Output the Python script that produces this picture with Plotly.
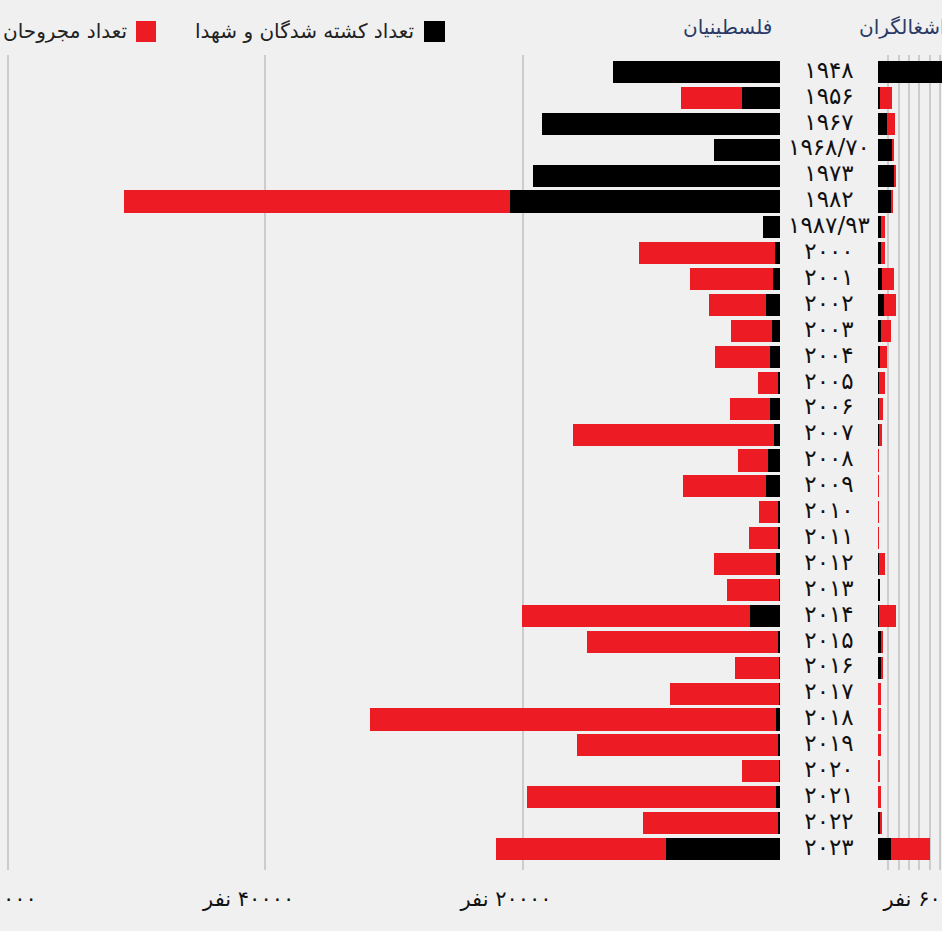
import plotly.graph_objects as go

# ---------------- data ----------------
years = ["۱۹۴۸", "۱۹۵۶", "۱۹۶۷", "۱۹۶۸/۷۰", "۱۹۷۳", "۱۹۸۲", "۱۹۸۷/۹۳",
         "۲۰۰۰", "۲۰۰۱", "۲۰۰۲", "۲۰۰۳", "۲۰۰۴", "۲۰۰۵", "۲۰۰۶", "۲۰۰۷",
         "۲۰۰۸", "۲۰۰۹", "۲۰۱۰", "۲۰۱۱", "۲۰۱۲", "۲۰۱۳", "۲۰۱۴", "۲۰۱۵",
         "۲۰۱۶", "۲۰۱۷", "۲۰۱۸", "۲۰۱۹", "۲۰۲۰", "۲۰۲۱", "۲۰۲۲", "۲۰۲۳"]

pal_killed = [13000, 2950, 18500, 5130, 19200, 20980, 1320,
              390, 540, 1090, 620, 780, 190, 780, 470,
              930, 1090, 150, 150, 310, 80, 2330, 170,
              110, 100, 310, 140, 60, 340, 190, 8860]
pal_wounded = [0, 4740, 0, 0, 0, 30000, 0,
               10570, 6450, 4430, 3190, 4270, 1550, 3110, 15620,
               2330, 6450, 1480, 2250, 4820, 4040, 17720, 14840,
               3420, 8470, 31550, 15620, 2870, 19350, 10490, 13210]

isr_killed = [6373, 170, 880, 1360, 1600, 1250, 300,
              300, 360, 580, 260, 160, 100, 100, 50,
              50, 30, 20, 20, 60, 150, 100, 250,
              350, 20, 15, 10, 5, 15, 160, 1250]
isr_wounded = [0, 1160, 810, 200, 100, 200, 400,
               400, 1170, 1130, 970, 680, 550, 350, 350,
               30, 50, 30, 30, 600, 0, 1600, 200,
               100, 250, 250, 250, 200, 250, 200, 3790]

legend_killed = "تعداد کشته شدگان و شهدا"
legend_wounded = "تعداد مجروحان"
title_pal = "فلسطینیان"
title_isr = "اشغالگران"

unit = "نفر"
pal_ticks = [0, 20000, 40000, 60000]
pal_tick_numbers = ["", "۲۰۰۰۰", "۴۰۰۰۰", "۶۰۰۰۰"]
isr_ticks = [0, 1000, 2000, 3000, 4000, 5000, 6000]
isr_tick_numbers = ["", "", "", "", "", "", "۶۰۰۰"]

# ---------------- style ----------------
W, H = 942, 931
BG = "#f0f0f0"
RED = "#ed1c24"
BLACK = "#000000"
GRID = "#cccccc"
NAVY = "#2b3a67"
FONT = "DejaVu Sans"
PAD = "\u00a0" * 5
LRM = "\u200e"

BAR_W = 0.85


def tick_label(num):
    # visual order: unit on the left, number on the right, number centred on the tick
    if not num:
        return ""
    return unit + " " + LRM + num + PAD


fig = go.Figure()

fig.add_trace(go.Bar(y=years, x=pal_killed, orientation="h", marker_color=BLACK,
                     marker_line_width=0, width=BAR_W, xaxis="x", yaxis="y",
                     name=legend_killed, showlegend=False))
fig.add_trace(go.Bar(y=years, x=pal_wounded, orientation="h", marker_color=RED,
                     marker_line_width=0, width=BAR_W, xaxis="x", yaxis="y",
                     name=legend_wounded, showlegend=False))
fig.add_trace(go.Bar(y=years, x=isr_killed, orientation="h", marker_color=BLACK,
                     marker_line_width=0, width=BAR_W, xaxis="x2", yaxis="y",
                     name=legend_killed, showlegend=False))
fig.add_trace(go.Bar(y=years, x=isr_wounded, orientation="h", marker_color=RED,
                     marker_line_width=0, width=BAR_W, xaxis="x2", yaxis="y",
                     name=legend_wounded, showlegend=False))
fig.add_trace(go.Scatter(y=years, x=[0.5] * len(years), mode="text", text=years,
                         textposition="middle center",
                         textfont=dict(family=FONT, size=23, color="#111111"),
                         xaxis="x3", yaxis="y", showlegend=False, cliponaxis=False,
                         hoverinfo="skip"))

y_top_px, y_bot_px = 55, 870
row0, pitch = 72, 25.9
y_range = [(y_bot_px - row0) / pitch, (y_top_px - row0) / pitch]

left_zero = 780
left_scale = (780 - 8) / 60000.0
right_zero = 878
right_scale = (940 - 878) / 6000.0

axis_common = dict(showgrid=True, gridcolor=GRID, gridwidth=2, zeroline=False,
                   showline=False, ticks="", anchor="y", automargin=False,
                   ticklabeloverflow="allow",
                   tickfont=dict(family=FONT, size=21, color="#111111"),
                   ticklabelstandoff=14, fixedrange=True)

fig.update_layout(
    width=W, height=H,
    margin=dict(l=0, r=0, t=0, b=0),
    paper_bgcolor=BG, plot_bgcolor=BG,
    barmode="stack", bargap=0,
    showlegend=False,
    xaxis=dict(domain=[0, left_zero / W], range=[left_zero / left_scale, 0],
               tickmode="array", tickvals=pal_ticks,
               ticktext=[tick_label(n) for n in pal_tick_numbers], **axis_common),
    xaxis2=dict(domain=[right_zero / W, 1], range=[0, (W - right_zero) / right_scale],
                tickmode="array", tickvals=isr_ticks,
                ticktext=[tick_label(n) for n in isr_tick_numbers], **axis_common),
    xaxis3=dict(domain=[left_zero / W, right_zero / W], range=[0, 1], visible=False,
                anchor="y", fixedrange=True),
    yaxis=dict(domain=[1 - y_bot_px / H, 1 - y_top_px / H],
               categoryorder="array", categoryarray=years, range=y_range,
               showticklabels=False, showgrid=False, zeroline=False, showline=False,
               automargin=False, fixedrange=True),
)


def py(p):
    return 1 - p / H


annotations = [
    dict(text=title_pal, x=727 / W, y=py(27), xref="paper", yref="paper",
         xanchor="center", yanchor="middle", showarrow=False,
         font=dict(family=FONT, size=20, color=NAVY)),
    dict(text=title_isr, x=857 / W, y=py(27), xref="paper", yref="paper",
         xanchor="left", yanchor="middle", showarrow=False,
         font=dict(family=FONT, size=20, color=NAVY)),
    dict(text=legend_killed, x=416 / W, y=py(31), xref="paper", yref="paper",
         xanchor="right", yanchor="middle", showarrow=False,
         font=dict(family=FONT, size=20, color="#222222")),
    dict(text=legend_wounded, x=129 / W, y=py(31), xref="paper", yref="paper",
         xanchor="right", yanchor="middle", showarrow=False,
         font=dict(family=FONT, size=20, color="#222222")),
]
fig.update_layout(annotations=annotations)

shapes = [
    dict(type="rect", xref="paper", yref="paper", x0=424 / W, x1=445 / W,
         y0=py(42), y1=py(21), fillcolor=BLACK, line_width=0),
    dict(type="rect", xref="paper", yref="paper", x0=136 / W, x1=156 / W,
         y0=py(42), y1=py(21), fillcolor=RED, line_width=0),
]
fig.update_layout(shapes=shapes)

fig.write_html("out.html", config={"displayModeBar": False},
               post_script="document.body.style.margin='0';document.body.style.overflow='hidden';")
